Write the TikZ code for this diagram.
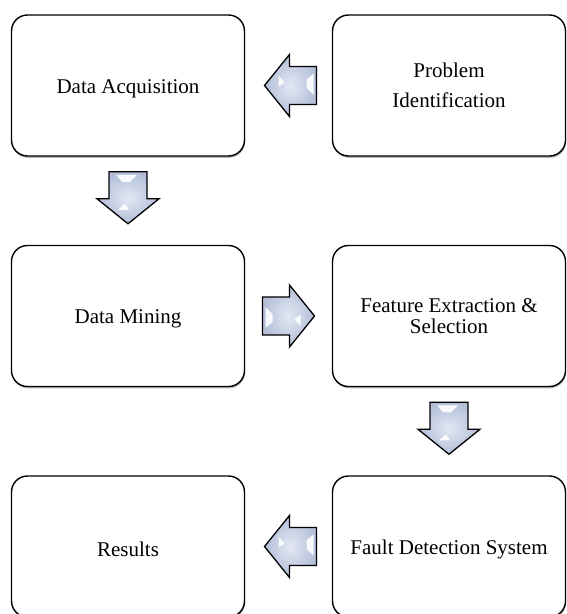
\documentclass[tikz,border=0pt]{standalone}
\usepackage{fontspec}
\setmainfont{Liberation Serif}
\usetikzlibrary{shadows,calc}
\definecolor{arrowlight}{HTML}{E2E7F2}
\definecolor{arrowdark}{HTML}{B3BFD9}
\newcommand{\lowertext}[1]{\raisebox{-3pt}[\height][\depth]{#1}}
\tikzset{
  stepbox/.style={draw=black, line width=1.4pt, rounded corners=16pt, fill=white,
    minimum width=233pt, minimum height=141pt, align=center,
    font=\fontsize{21}{27}\selectfont,
    drop shadow={shadow xshift=0.6pt, shadow yshift=-1.8pt, fill=black, opacity=0.3}},
  blockarrow/.pic={
    \shade[draw=black, line width=1.3pt, line join=miter, inner color=arrowlight, outer color=arrowdark]
      (-26,-19) -- (1,-19) -- (1,-31) -- (26,0) -- (1,31) -- (1,19) -- (-26,19) -- cycle;
    \fill[white, opacity=0.9] (-23,-9) -- (-16,-2) -- (-16,6) -- (-23,12) -- cycle;
    \fill[white, opacity=0.9] (6,3) -- (12,-1) -- (12,10) -- cycle;
  }
}
\begin{document}
\begin{tikzpicture}[x=1pt,y=-1pt]
\useasboundingbox (0,0) rectangle (566,614);
\node[stepbox] (A) at (128,85.5) {\lowertext{Data Acquisition}};
\node[stepbox] (P) at (449,85.5) {Problem\\[3pt]Identification};
\node[stepbox] (M) at (128,316) {\lowertext{Data Mining}};
\node[stepbox, font=\fontsize{21}{21}\selectfont] (F) at (449,316) {Feature Extraction \&\\Selection};
\node[stepbox] (R) at (128,546.5) {\lowertext{Results}};
\node[stepbox] (S) at (449,546.5) {\lowertext{Fault Detection System}};
\pic[rotate=180] at ($(A.east)!0.5!(P.west)+(2,0)$) {blockarrow};
\pic[rotate=-90] at ($(A.south)!0.5!(M.north)+(0,-3)$) {blockarrow};
\pic at ($(M.east)!0.5!(F.west)$) {blockarrow};
\pic[rotate=-90] at ($(F.south)!0.5!(S.north)+(0,-3)$) {blockarrow};
\pic[rotate=180] at ($(R.east)!0.5!(S.west)+(2,0)$) {blockarrow};
\end{tikzpicture}
\end{document}
